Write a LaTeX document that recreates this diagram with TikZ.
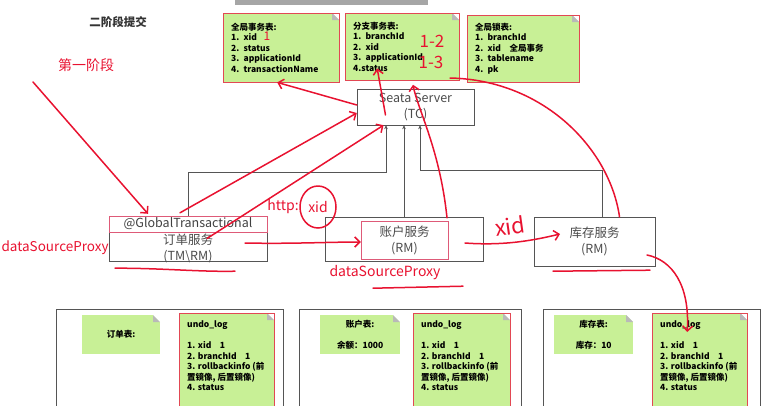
\documentclass[tikz,border=0pt]{standalone}
\usepackage{fontspec}
\setmainfont{Noto Sans CJK SC}
\usetikzlibrary{arrows}
\usetikzlibrary{positioning}
\usetikzlibrary{calc}
\usetikzlibrary{arrows.meta}
\definecolor{notegreen}{RGB}{200,240,150}
\definecolor{noteborder}{RGB}{226,72,84}
\definecolor{hlred}{RGB}{222,90,120}
\definecolor{penred}{RGB}{232,18,48}
\definecolor{boxgray}{RGB}{85,85,85}
\definecolor{textgray}{RGB}{75,75,75}
\newcommand{\notefont}{\fontsize{8.5}{10.5}\selectfont\bfseries}
\newcommand{\svcfont}{\fontsize{12.5}{16}\selectfont}
\newcommand{\handfont}{\fontsize{14}{16}\selectfont}

\begin{document}
\begin{tikzpicture}[->,>=stealth', x=1pt, y=-1pt]
			\tikzset{note/.style = {shape=rectangle, fill=notegreen, draw=noteborder, thin, inner xsep=8pt, align=left, anchor=north west, font=\notefont,
					path picture={\fill[white] ([xshift=-7pt]path picture bounding box.north east) -- (path picture bounding box.north east) -- ([yshift=-7pt]path picture bounding box.north east) -- cycle;
						\fill[gray!55] ([xshift=-7pt]path picture bounding box.north east) -- ([yshift=-7pt]path picture bounding box.north east) -- ([xshift=-7pt,yshift=-7pt]path picture bounding box.north east) -- cycle;}},
				tablenote/.style = {note, draw=none, align=center},
				undotext/.style = {align=left, anchor=north west, inner sep=0pt, font=\notefont},
				panelbox/.style = {shape=rectangle, draw=boxgray, thin, anchor=north west},
				svc/.style = {shape=rectangle, draw=boxgray, fill=white, thin, inner sep=0pt, align=center, text=textgray, font=\svcfont},
				hilite/.style = {svc, draw=hlred, fill=none},
				link/.style = {draw=boxgray, thin, -{Stealth[length=4pt,width=3.5pt]}},
				pen/.style = {draw=penred, line width=1.5pt, line cap=round, line join=round, -},
				penarrow/.style = {pen, -{Straight Barb[length=5pt,width=10pt]}},
				hand/.style = {text=penred, inner sep=1pt, font=\handfont}}
			
			\useasboundingbox (0,0) rectangle (766,405);
			\fill[gray!70] (235,0) rectangle (428,5);
			
			\node[font=\fontsize{11.5}{14}\selectfont\bfseries, text=black!80] (title) at (118,22) {二阶段提交};
			\node[hand] (phase1) at (86,65) {第一阶段};
			
			\node[note, text width=100pt, minimum height=69pt] (gtable) at (223,13)
			{全局事务表:\\1. xid\\2. status\\3. applicationId\\4. transactionName};
			\node[note, text width=98pt, minimum height=67pt] (btable) at (345,13)
			{分支事务表:\\1. branchId\\2. xid\\3. applicationId\\4.status};
			\node[note, text width=96pt, minimum height=67pt] (ltable) at (467,15)
			{全局锁表:\\1. branchId\\2. xid\quad 全局事务\\3. tablename\\4. pk};
			
			\node[svc, minimum width=117pt, minimum height=36pt] (tc) at (415.5,107) {Seata Server\\(TC)};
			
			\node[svc, minimum width=158pt, minimum height=45pt] (order) at (188,238.5) {};
			\node[hilite, minimum width=158pt, minimum height=16pt, anchor=north, text=black!75] (gt) at (order.north) {@GlobalTransactional};
			\node[svc, draw=none, fill=none] (ordertxt) at ([yshift=-10pt]order.center) {订单服务\\(TM\textbackslash RM)};
			\node[svc, minimum width=158pt, minimum height=44pt] (acc) at (404,239.5) {};
			\node[hilite, minimum width=87pt, minimum height=38pt] (acctxt) at (404.5,240) {账户服务\\(RM)};
			\node[svc, minimum width=121pt, minimum height=49pt] (inv) at (594.5,241.5) {库存服务\\(RM)};
			
			\draw[link] (order.north) -- ++(0,-44) -| ([xshift=-29.5pt]tc.south);
			\draw[link] (acc.north) -- (acc.north |- tc.south);
			\draw[link] ([xshift=7.5pt]inv.north) -- ++(0,-47) -| ([xshift=4.5pt]tc.south);
			
			\node[panelbox, minimum width=227pt, minimum height=110pt] (pan1) at (56,309) {};
			\node[panelbox, minimum width=222pt, minimum height=110pt] (pan2) at (299,309) {};
			\node[panelbox, minimum width=217pt, minimum height=110pt] (pan3) at (543,309) {};
			
			\node[tablenote, minimum width=78pt, minimum height=39pt, text width=62pt] (otable) at (82,315) {订单表:};
			\node[tablenote, minimum width=80pt, minimum height=39pt, text width=64pt] (atable) at (320,315) {账户表:\\[11pt]余额：1000};
			\node[tablenote, minimum width=79pt, minimum height=39pt, text width=63pt] (itable) at (554,315) {库存表:\\[11pt]库存：10};
			
			\node[note, minimum width=95pt, minimum height=100pt] (undo1) at (179,313) {};
			\node[note, minimum width=97pt, minimum height=100pt] (undo2) at (413,313) {};
			\node[note, minimum width=95pt, minimum height=100pt] (undo3) at (652,313) {};
			\foreach \u in {undo1,undo2,undo3}
			\node[undotext] at ([shift={(8pt,-8pt)}]\u.north west)
			{undo\_log\\[10.5pt]1. xid\quad 1\\2. branchId\quad 1\\3. rollbackinfo (前\\置镜像, 后置镜像)\\4. status};
			
			\coordinate (p1) at (33,82);
			\draw[penarrow] (p1) -- ([xshift=-40pt,yshift=2pt]order.north);
			\draw[penarrow] ([xshift=-8pt,yshift=3pt]order.north) -- ([yshift=-6pt]tc.west);
			\draw[penarrow] ([xshift=19pt]order.center) -- ([xshift=-32pt]tc.south);
			\draw[penarrow] ([yshift=2pt]tc.west) -- ([xshift=-4pt]gtable.south);
			\draw[penarrow] ([xshift=-30pt,yshift=-8pt]tc.center) -- ([xshift=-25pt,yshift=12pt]btable.south);
			\draw[penarrow] ([xshift=42.5pt,yshift=3pt]acctxt.north) .. controls (440,150) and (418,110) .. ([xshift=-2.5pt,yshift=4pt]tc.north);
			\draw[pen] ([xshift=25pt]inv.north) .. controls (610,150) and (545,80) .. (450,78);
			
			\node[hand] (httplbl) at (283,207) {http:};
			\node[hand] (xidlbl) at (318,207) {xid};
			\draw[pen] (xidlbl) ellipse [x radius=18pt, y radius=21pt];
			\draw[penarrow] ([xshift=57pt,yshift=-4.5pt]order.center) .. controls (290,244) and (330,242) .. ([yshift=-2pt]acctxt.west);
			\node[hand, font=\fontsize{22}{24}\selectfont, rotate=8] (xidhand) at (510,226) {xid};
			\draw[penarrow] ([xshift=60.5pt,yshift=-3pt]acctxt.center) .. controls (505,246) and (535,240) .. ([xshift=-34.5pt,yshift=7.5pt]inv.center);
			
			\node[hand, anchor=east, font=\fontsize{13.5}{16}\selectfont] (dsp1) at ([xshift=1pt,yshift=-9.5pt]order.west) {dataSourceProxy};
			\node[hand] (dsp2) at ([xshift=-19pt,yshift=-10.5pt]acc.south) {dataSourceProxy};
			\draw[pen] ([xshift=-73pt,yshift=-7pt]order.south) .. controls (160,268) and (200,272) .. ([xshift=47pt,yshift=-10pt]order.south);
			\draw[pen] ([xshift=-31pt,yshift=-26.5pt]acc.south) -- ([xshift=59pt,yshift=-24.5pt]acc.south);
			\draw[pen] ([xshift=-41.5pt,yshift=-5pt]inv.south) -- ([xshift=55.5pt,yshift=-4pt]inv.south);
			\draw[penarrow] ([xshift=52.5pt,yshift=-13.5pt]inv.center) .. controls (672,260) and (690,285) .. ([xshift=-12.5pt,yshift=-19pt]undo3.north);
			
			\node[hand, font=\fontsize{12}{13}\selectfont] (one) at (267,36) {1};
			\node[hand, font=\fontsize{17}{18}\selectfont] (onetwo) at (432,41) {1-2};
			\node[hand, font=\fontsize{17}{18}\selectfont] (onethree) at (431,62) {1-3};
			
			\end{tikzpicture}
\end{document}
